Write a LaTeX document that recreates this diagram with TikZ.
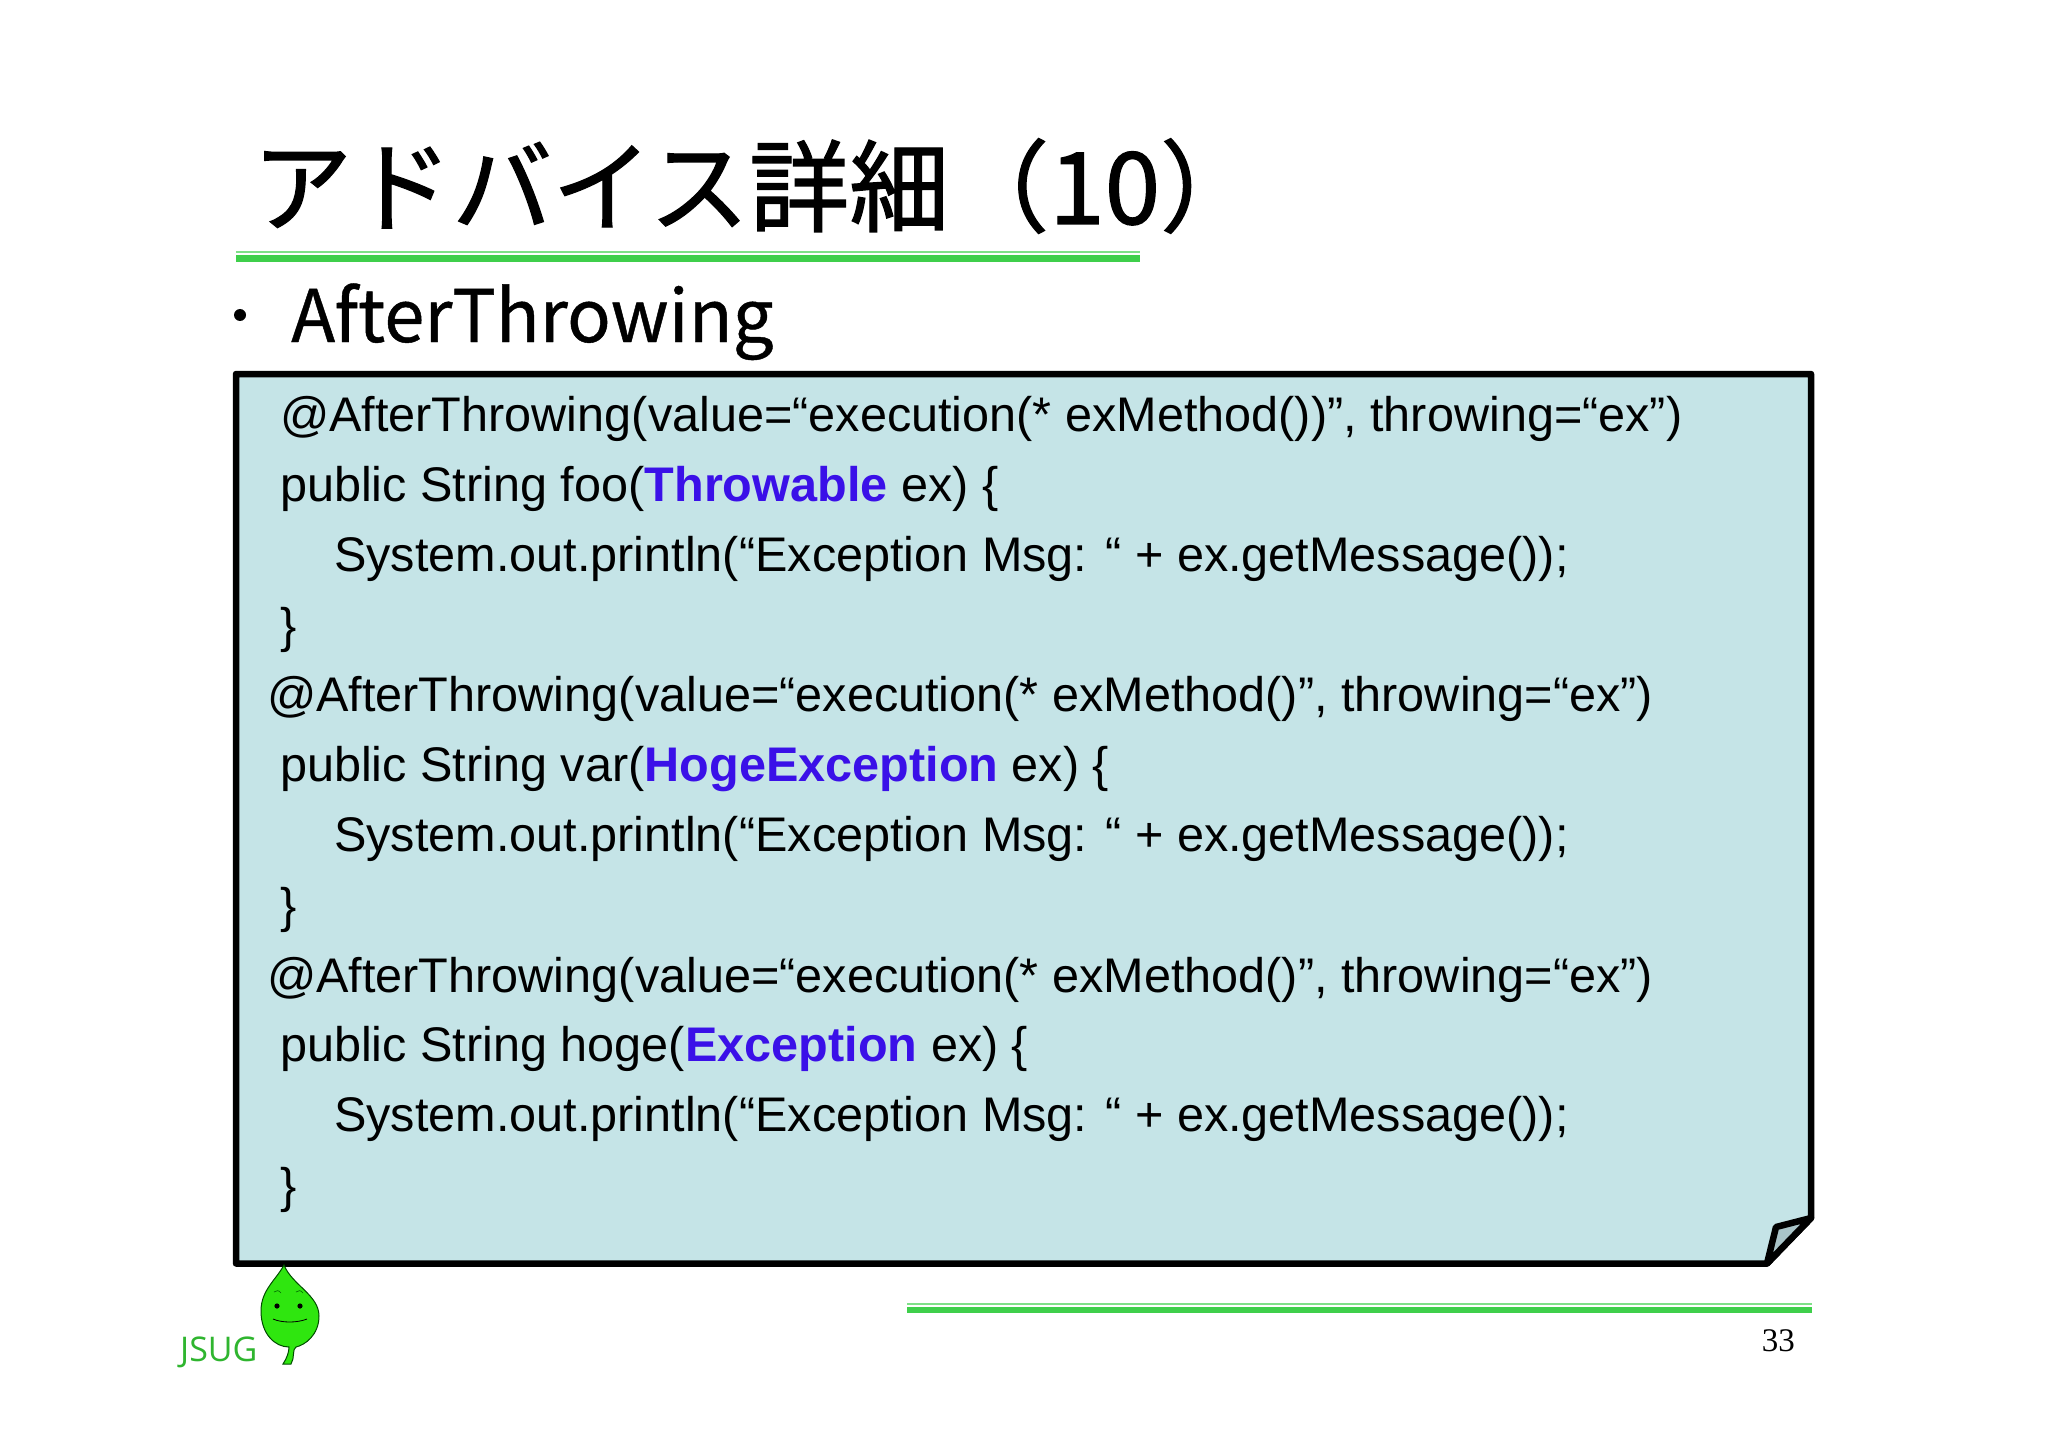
\documentclass[tikz,border=0pt]{standalone}
\usepackage{fontspec}
\setmainfont{Liberation Sans}
\newfontfamily\jpfont[RawFeature={embolden=1.2}]{Noto Sans CJK JP}
\newfontfamily\jphead[RawFeature={embolden=0.6}]{Noto Sans CJK JP}
\newfontfamily\serifnum{Liberation Serif}
\newfontfamily\labelfont{Open Sans}
\definecolor{panelfill}{HTML}{C5E4E7}
\definecolor{rulegreen}{HTML}{3FCF4B}
\definecolor{rulelight}{HTML}{7FE088}
\definecolor{kwblue}{HTML}{3A10E8}
\definecolor{leafgreen}{HTML}{2FE60F}
\definecolor{foldfill}{HTML}{A9C4C8}
\definecolor{jsuggreen}{HTML}{2FB52F}
\tikzset{
  x=1pt,y=-1pt,
  code/.style={anchor=base west,inner sep=0pt,outer sep=0pt,font=\fontsize{48.6}{50}\selectfont,text=black},
  panel/.style={draw=black,line width=6.5pt,line join=round},
}
\newcommand{\kwd}[1]{\textcolor{kwblue}{\bfseries #1}}
\begin{document}
\begin{tikzpicture}
\useasboundingbox (0,0) rectangle (2048,1447);
\fill[white] (0,0) rectangle (2048,1447);
% title
\node[anchor=base west,inner sep=0,font=\jpfont\fontsize{100}{100}\selectfont] (title) at (252,224) {アドバイス詳細（10）};
\fill[rulelight] (236,251) rectangle (1140,253.3);
\fill[rulegreen] (236,255) rectangle (1140,262);
% bullet
\fill[black] (240,315) circle (6);
\node[anchor=base west,inner sep=0,font=\jphead\fontsize{72.4}{72.4}\selectfont] (head) at (291,342) {AfterThrowing};
% panel
\draw[panel,fill=panelfill] (236,374) -- (1811,374) -- (1811,1218) -- (1767,1263.5) -- (236,1263.5) -- cycle;
\draw[panel,fill=foldfill] (1767,1263.5) -- (1776,1227) -- (1811,1218) -- cycle;
% code
\node[code] (l1) at (280,431) {@AfterThrowing(value=“execution(* exMethod())”, throwing=“ex”)};
\node[code] (l2) at (280,501) {public String foo(\kwd{Throwable} ex) \{};
\node[code] (l3) at (334,571) {System.out.println(“Exception Msg: “ + ex.getMessage());};
\node[code] (l4) at (280,642) {\}};
\node[code] (l5) at (267,711) {@AfterThrowing(value=“execution(* exMethod()”, throwing=“ex”)};
\node[code] (l6) at (280,781) {public String var(\kwd{HogeException} ex) \{};
\node[code] (l7) at (334,851) {System.out.println(“Exception Msg: “ + ex.getMessage());};
\node[code] (l8) at (280,922) {\}};
\node[code] (l9) at (267,992) {@AfterThrowing(value=“execution(* exMethod()”, throwing=“ex”)};
\node[code] (l10) at (280,1061) {public String hoge(\kwd{Exception} ex) \{};
\node[code] (l11) at (334,1131) {System.out.println(“Exception Msg: “ + ex.getMessage());};
\node[code] (l12) at (280,1202) {\}};
% footer rule
\fill[rulelight] (907,1302.5) rectangle (1812,1304.5);
\fill[rulegreen] (907,1306.5) rectangle (1812,1312.5);
\node[anchor=base east,inner sep=0,font=\serifnum\fontsize{33}{33}\selectfont] (page) at (1795,1351) {33};
\node[anchor=base west,inner sep=0,font=\labelfont\fontsize{34}{34}\selectfont,text=jsuggreen] (jsug) at (180,1361) {JSUG};
% leaf
\draw[draw=black!70!green,line width=1pt,fill=leafgreen] (284,1265)
  .. controls (292,1285) and (319,1295) .. (319,1316)
  .. controls (319,1335) and (305,1345) .. (296,1347)
  .. controls (292,1349) and (295,1358) .. (291,1364)
  -- (283,1364)
  .. controls (287,1358) and (289,1352) .. (289,1347)
  .. controls (275,1347) and (261,1334) .. (261,1311)
  .. controls (261,1290) and (276,1280) .. (284,1265) -- cycle;
\fill[black] (277,1306) circle (2.6);
\fill[black] (300,1306) circle (2.6);
\draw[black,line width=0.8pt] (273,1319) .. controls (282,1323) and (297,1323) .. (307,1319);
\draw[black!60!green,line width=0.6pt] (274,1292) .. controls (276,1290) and (279,1290) .. (281,1293);
\draw[black!60!green,line width=0.6pt] (296,1292) .. controls (298,1290) and (301,1290) .. (303,1293);
\end{tikzpicture}
\end{document}
